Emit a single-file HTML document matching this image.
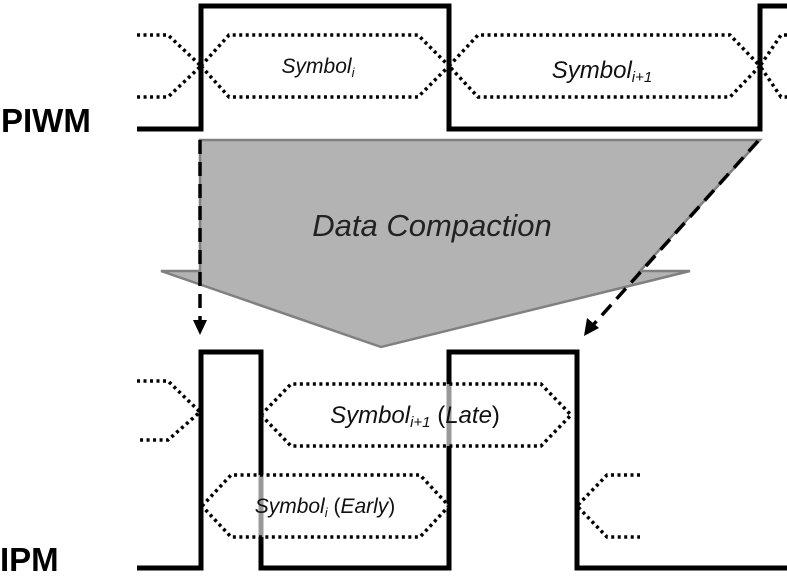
<!DOCTYPE html>
<html><head><meta charset="utf-8"><style>
html,body{margin:0;padding:0;background:#fff;}
svg{display:block;}
text{font-family:"Liberation Sans",sans-serif;}
</style></head><body>
<svg width="787" height="576" viewBox="0 0 787 576" xmlns="http://www.w3.org/2000/svg">
<polygon points="200,140 760,140 640,271 690,271 381,347 161,271 200,271" fill="#b3b3b3" stroke="#808080" stroke-width="2.5"/>
<text x="432" y="236" font-size="31" font-style="italic" text-anchor="middle" fill="#222">Data Compaction</text>

<g fill="none" stroke="#000" stroke-width="3.5" stroke-dasharray="3,3.5">
<polyline points="137,35 168,35 201,66 168,97 137,97"/>
<polygon points="201,66 229,35 418,35 449,66 418,97 229,97"/>
<polygon points="449,66 478,35 730,35 760,66 730,97 478,97"/>
<polyline points="787,35 781,35 760,66 781,97 787,97"/>
</g>
<polyline points="137,129 201,129 201,6 449,6 449,129 760,129 760,6 787,6" fill="none" stroke="#000" stroke-width="5"/>
<text x="1" y="132" font-size="33" font-weight="bold" fill="#000">PIWM</text>
<text x="318" y="73" font-size="21" font-style="italic" text-anchor="middle" fill="#111">Symbol<tspan font-size="13" dy="4">i</tspan></text>
<text x="602" y="78" font-size="24" font-style="italic" text-anchor="middle" fill="#111">Symbol<tspan font-size="15" dy="4">i+1</tspan></text>

<g stroke="#000" stroke-width="3.5" stroke-dasharray="14,8" fill="none">
<line x1="200" y1="140" x2="200" y2="322"/>
<line x1="758" y1="141" x2="594" y2="324"/>
</g>
<polygon points="193,320 207,320 200,335" fill="#000"/>
<polygon points="587,318 599,328 584,336" fill="#000"/>

<polyline points="137,568 201,568 201,352 261,352 261,568 449,568 449,352 577,352 577,568 787,568" fill="none" stroke="#000" stroke-width="5"/>
<g stroke="#000" stroke-width="3.5" stroke-dasharray="3,3.5">
<polyline fill="none" points="137,381 168,381 200,412 168,440 137,440"/>
<polygon fill="#fff" fill-opacity="0.6" points="261,415 291,384 541,384 571,415 541,446 291,446"/>
<polygon fill="#fff" fill-opacity="0.6" points="202,506 231,475 420,475 449,506 420,537 231,537"/>
<polyline fill="none" points="640,475 607,475 577,506 607,537 640,537"/>
</g>
<text x="415" y="423" font-size="24" font-style="italic" text-anchor="middle" fill="#111">Symbol<tspan font-size="15" dy="4">i+1</tspan><tspan dy="-4" font-style="normal"> (</tspan>Late<tspan font-style="normal">)</tspan></text>
<text x="325" y="513" font-size="21" font-style="italic" text-anchor="middle" fill="#111">Symbol<tspan font-size="13" dy="4">i</tspan><tspan dy="-4" font-style="normal"> (</tspan>Early<tspan font-style="normal">)</tspan></text>
<text x="0" y="571" font-size="33" font-weight="bold" fill="#000">IPM</text>
</svg>
</body></html>
